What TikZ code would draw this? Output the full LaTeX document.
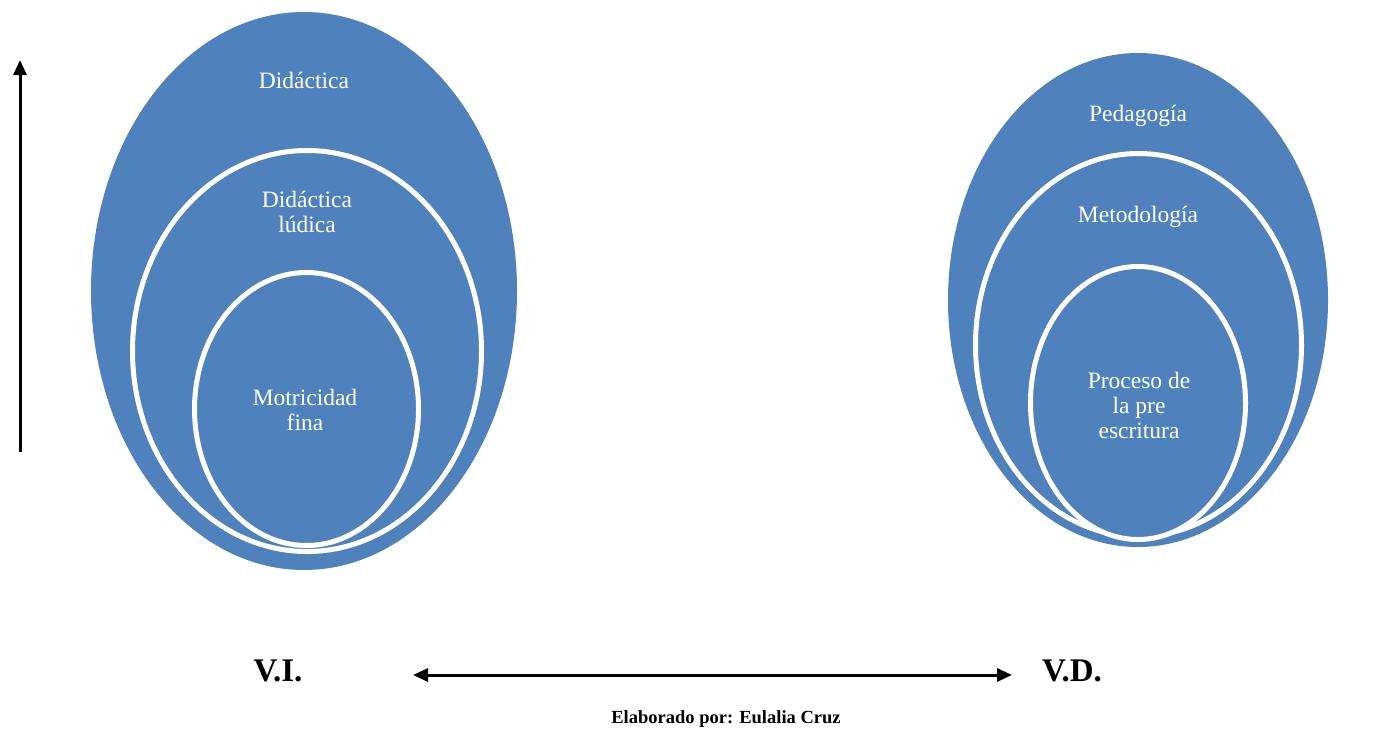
\documentclass[tikz,border=0pt]{standalone}
\usepackage{fontspec}
\setmainfont{Liberation Serif}
\usetikzlibrary{arrows.meta,shapes.geometric}
\definecolor{ovalblue}{HTML}{4F81BD}
\tikzset{
  outeroval/.style={ellipse, fill=ovalblue, draw=none, inner sep=0pt},
  inneroval/.style={ellipse, fill=ovalblue, draw=white, line width=5pt, inner sep=0pt},
  ovaltext/.style={text=white, inner sep=0pt, align=center, font=\fontsize{23.5}{25}\selectfont},
  vartext/.style={inner sep=0pt, anchor=base, font=\bfseries\fontsize{33}{35}\selectfont},
  arrowline/.style={line width=3pt, -{Triangle[length=15pt,width=13pt]}},
  dblarrow/.style={line width=3pt, {Triangle[length=15pt,width=13pt]}-{Triangle[length=15pt,width=13pt]}}
}
\begin{document}
\begin{tikzpicture}[x=1pt,y=-1pt]
\useasboundingbox (0,0) rectangle (1386,729);
% left group
\node[outeroval, minimum width=426pt, minimum height=558pt] (lout) at (304,291) {};
\node[inneroval, minimum width=349pt, minimum height=401pt] (lmid) at (307,351) {};
\node[inneroval, minimum width=224pt, minimum height=273pt] (lin) at (306.5,409) {};
\node[ovaltext, anchor=base] (t1) at (304,88) {Didáctica};
\node[ovaltext] (t2) at (307,211.5) {Didáctica\\lúdica};
\node[ovaltext] (t3) at (305,409.5) {Motricidad\\fina};
% right group
\node[outeroval, minimum width=380pt, minimum height=494pt] (rout) at (1138,300) {};
\node[inneroval, minimum width=326pt, minimum height=383pt] (rmid) at (1138.5,345) {};
\node[inneroval, minimum width=215pt, minimum height=273pt] (rin) at (1138,403) {};
\node[ovaltext, anchor=base] (t4) at (1138,121) {Pedagogía};
\node[ovaltext, anchor=base] (t5) at (1138,222) {Metodología};
\node[ovaltext] (t6) at (1139,405) {Proceso de\\la pre\\escritura};
% vertical arrow
\coordinate (vb) at (20,452);
\coordinate (vt) at (20,60);
\draw[arrowline] (vb) -- (vt);
% bottom labels
\node[vartext] (vi) at (278,681) {V.I.};
\node[vartext] (vd) at (1072,681) {V.D.};
\coordinate (hl) at (413,675);
\coordinate (hr) at (1012,675);
\draw[dblarrow] (hl) -- (hr);
\node[inner sep=0pt, anchor=base, font=\bfseries\fontsize{18.5}{20}\selectfont] (credit) at (726,723) {Elaborado por: Eulalia Cruz};
\end{tikzpicture}
\end{document}
